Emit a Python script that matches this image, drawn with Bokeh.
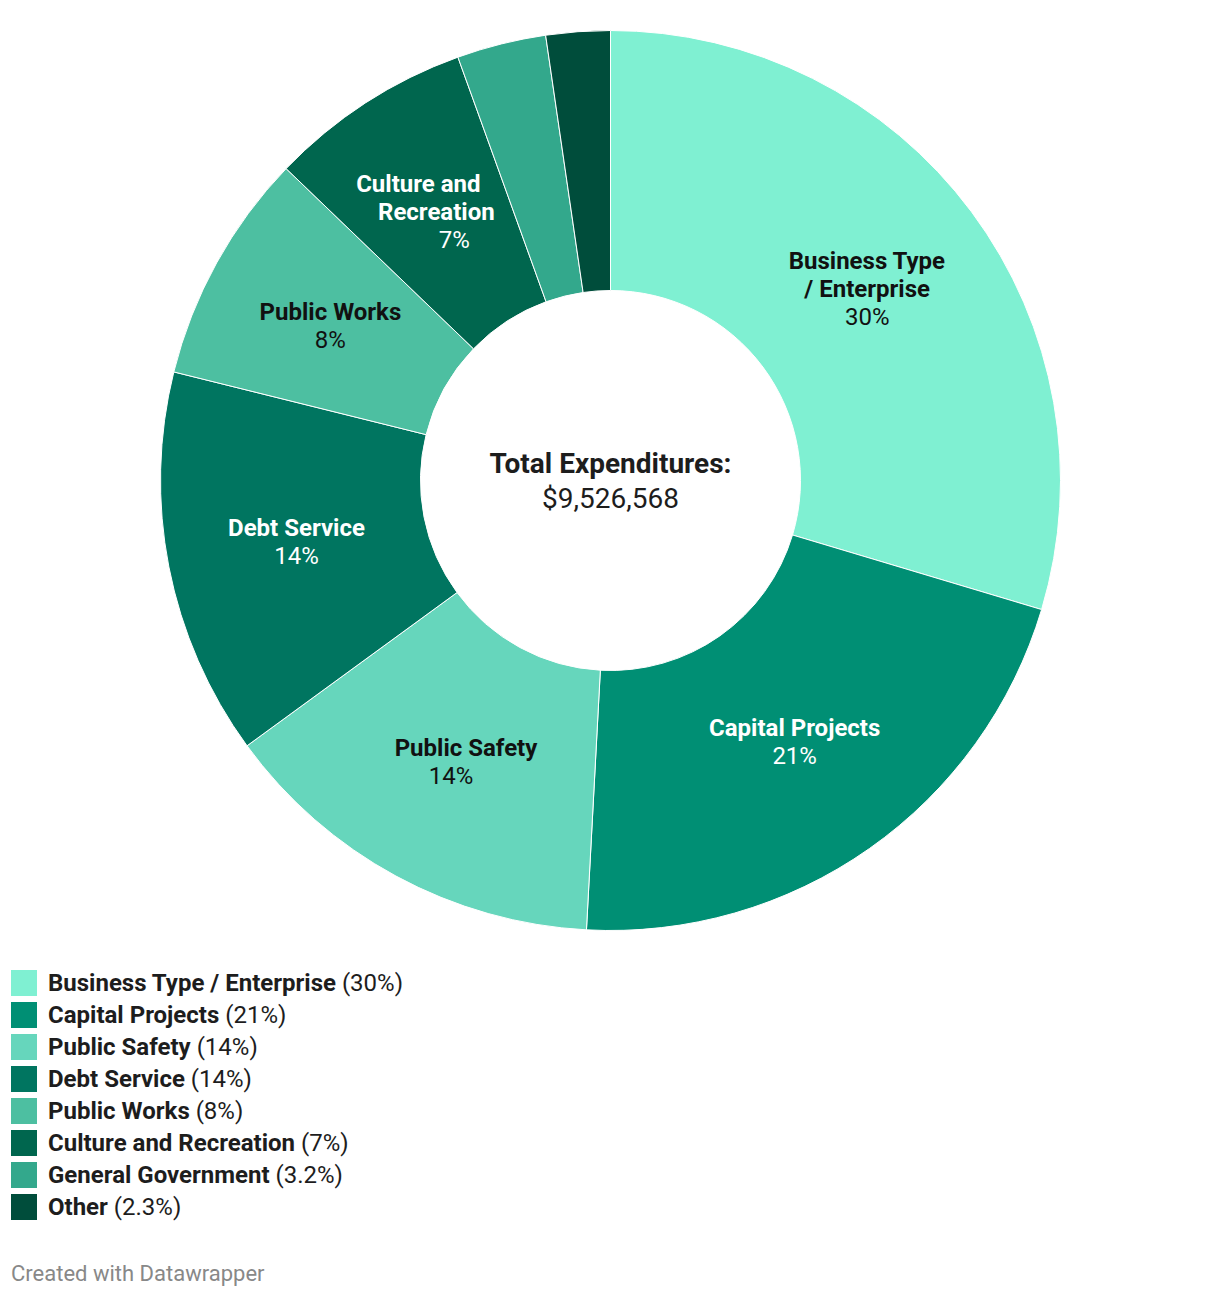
import numpy as np
from bokeh.plotting import figure
from bokeh.models import ColumnDataSource, Range1d, Div
from bokeh.layouts import column
from bokeh.core.properties import value
from bokeh.embed import file_html
from bokeh.resources import INLINE

categories = ["Business Type / Enterprise", "Capital Projects", "Public Safety", "Debt Service",
              "Public Works", "Culture and Recreation", "General Government", "Other"]
shares = [29.6, 21.2, 14.1, 13.9, 8.3, 7.3, 3.2, 2.3]
pct_labels = ["30%", "21%", "14%", "14%", "8%", "7%", "3.2%", "2.3%"]
slice_names = ["Business Type\n/ Enterprise", "Capital Projects", "Public Safety", "Debt Service",
               "Public Works", "Culture and\nRecreation", "", ""]
colors = ["#7ff0d2", "#008f74", "#66d6bc", "#007560", "#4dbfa1", "#00664e", "#33a88c", "#004d3b"]
label_colors = ["#111111", "#ffffff", "#111111", "#ffffff", "#111111", "#ffffff", "#ffffff", "#ffffff"]
total_label = "Total Expenditures:"
total_value = "$9,526,568"

# per-line horizontal nudges of slice labels (style, pixels): name lines..., pct line
line_nudges = [[0, 0, 0], [0, 0], [8, -7], [0, 0], [0, 0], [-18, 0, 18], [], []]

FONT = "Roboto"
W, H = 1220, 950
CX, CY = 610, H - 480
R_OUT, R_IN = 450, 190

frac = np.array(shares) / np.sum(shares)
cum = np.concatenate([[0], np.cumsum(frac)])
start = np.pi / 2 - cum[:-1] * 2 * np.pi
end = np.pi / 2 - cum[1:] * 2 * np.pi
mid = (start + end) / 2

p = figure(width=W, height=H, output_backend="svg", toolbar_location=None,
           x_range=Range1d(0, W), y_range=Range1d(0, H), min_border=0)
p.axis.visible = False
p.grid.visible = False
p.outline_line_color = None
p.background_fill_color = "white"

src = ColumnDataSource(dict(start=start, end=end, color=colors))
p.annular_wedge(x=CX, y=CY, inner_radius=R_IN, outer_radius=R_OUT, start_angle="start",
                end_angle="end", direction="clock", fill_color="color", line_color="white",
                line_width=1, source=src)

# slice labels
R_LAB = (R_IN + R_OUT) / 2
LH = 28
nx, ny, nt, nc, no, nxo = [], [], [], [], [], []
px, py, pt, pc, po, pxo = [], [], [], [], [], []
for i, name in enumerate(slice_names):
    if not name:
        continue
    lines = name.split("\n")
    n = len(lines) + 1
    lx = CX + R_LAB * np.cos(mid[i])
    ly = CY + R_LAB * np.sin(mid[i])
    for j, ln in enumerate(lines):
        nx.append(lx); ny.append(ly); nt.append(ln); nc.append(label_colors[i])
        no.append((j - (n - 1) / 2) * LH); nxo.append(line_nudges[i][j])
    px.append(lx); py.append(ly); pt.append(pct_labels[i]); pc.append(label_colors[i])
    po.append(((n - 1) - (n - 1) / 2) * LH); pxo.append(line_nudges[i][n - 1])

p.text(x="x", y="y", text="t", text_color="c", y_offset="o", x_offset="xo",
       source=ColumnDataSource(dict(x=nx, y=ny, t=nt, c=nc, o=no, xo=nxo)),
       text_font=value(FONT), text_font_size="24px", text_font_style="bold",
       text_align="center", text_baseline="middle")
p.text(x="x", y="y", text="t", text_color="c", y_offset="o", x_offset="xo",
       source=ColumnDataSource(dict(x=px, y=py, t=pt, c=pc, o=po, xo=pxo)),
       text_font=value(FONT), text_font_size="24px", text_font_style="normal",
       text_align="center", text_baseline="middle")

# center text
p.text(x=[CX], y=[CY], text=[total_label], y_offset=[-17], text_font=value(FONT),
       text_font_size="28px", text_font_style="bold", text_color="#1d1d1d",
       text_align="center", text_baseline="middle")
p.text(x=[CX], y=[CY], text=[total_value], y_offset=[18], text_font=value(FONT),
       text_font_size="28px", text_font_style="normal", text_color="#1d1d1d",
       text_align="center", text_baseline="middle")

rows = []
for cat, pl, col in zip(categories, pct_labels, colors):
    rows.append(
        f'<div style="display:flex;align-items:center;height:32px;">'
        f'<span style="display:inline-block;width:26px;height:26px;background:{col};margin-right:11px;flex:none;"></span>'
        f'<span style="font-weight:bold;">{cat}</span>&nbsp;<span>({pl})</span></div>'
    )
legend_html = (
    f'<div style="font-family:Roboto;font-size:24px;color:#1d1d1d;padding:17px 0 0 11px;width:1200px;">'
    + "".join(rows)
    + '<div style="margin-top:40px;font-size:22px;color:#888888;line-height:22px;">Created with Datawrapper</div>'
    + '</div>'
)
div = Div(text=legend_html, width=W, height=1298 - H, margin=(0, 0, 0, 0))

layout = column(p, div, spacing=0)
open("out.html", "w").write(file_html(layout, INLINE))
